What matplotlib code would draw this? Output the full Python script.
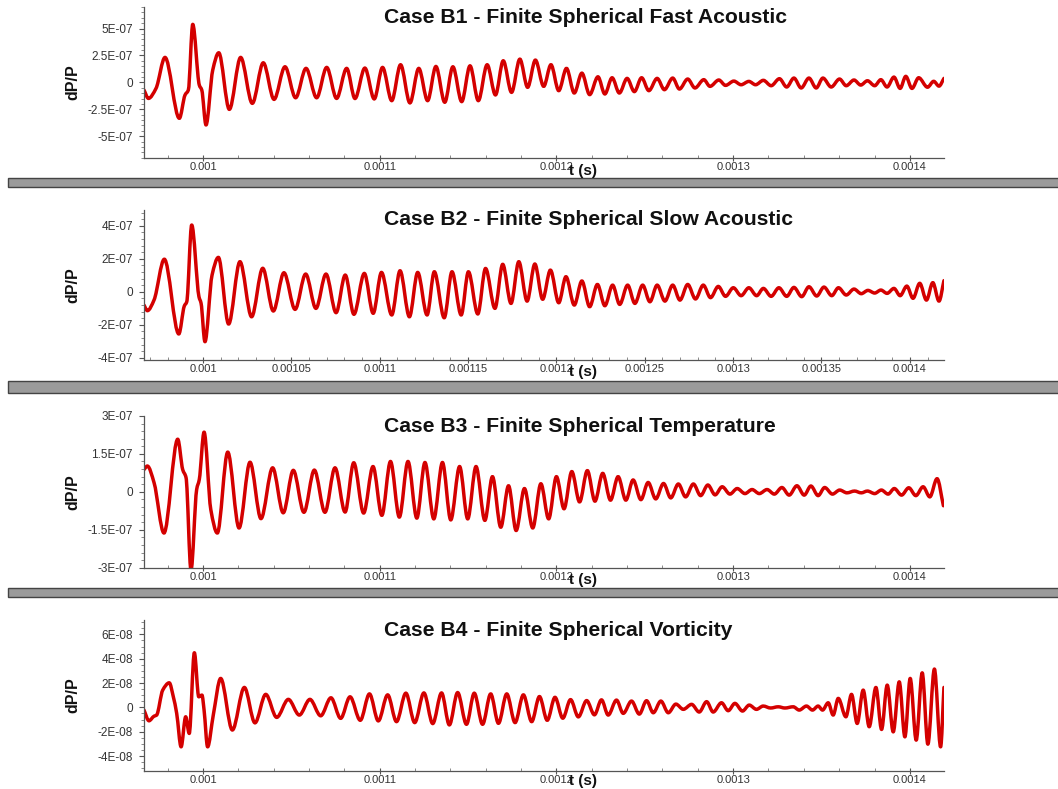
import numpy as np
import matplotlib
matplotlib.use('Agg')
import matplotlib.pyplot as plt
from matplotlib.path import Path
from matplotlib.patches import PathPatch, Rectangle
from matplotlib.ticker import FixedLocator, AutoMinorLocator, FuncFormatter

plt.rcParams['font.family'] = ['Liberation Sans', 'DejaVu Sans']

# peaks / troughs; time in microseconds
b1_t_us = [966.6, 969.1, 973.4, 978.5, 986.6, 989.8, 991.7, 994.2, 997.9, 999.3,
           1001.7, 1005.5, 1008.9, 1014.9, 1021.3, 1027.9, 1034.1, 1040.2, 1046.4, 1052.4,
           1058.3, 1064.3, 1070.0, 1075.6, 1081.3, 1086.0, 1091.6, 1096.9, 1101.6, 1106.8,
           1111.8, 1117.1, 1122.1, 1127.1, 1131.8, 1136.8, 1141.4, 1146.4, 1151.1, 1155.8,
           1160.8, 1165.5, 1169.9, 1174.6, 1179.3, 1183.7, 1188.1, 1192.8, 1196.9, 1201.3,
           1205.7, 1210.1, 1214.4, 1218.8, 1223.5, 1227.4, 1231.5, 1235.6, 1240.0, 1244.1,
           1248.2, 1252.3, 1257.0, 1261.1, 1265.8, 1269.6, 1274.3, 1278.4, 1283.4, 1286.9,
           1291.9, 1295.7, 1300.4, 1304.5, 1308.9, 1312.7, 1317.1, 1321.5, 1326.2, 1330.3,
           1334.4, 1338.5, 1342.9, 1347.0, 1350.8, 1355.5, 1360.2, 1364.0, 1368.4, 1372.2,
           1376.0, 1380.1, 1383.6, 1387.1, 1391.0, 1394.5, 1397.7, 1401.2, 1405.0, 1410.0,
           1413.5, 1416.5, 1419.3]
# dP/P in units of 1e-7
b1_dpp = [-0.71, -1.49, -0.56, 2.32, -3.34, -1.18, -0.71, 5.39, -0.25, -0.71,
          -3.96, 1.14, 2.75, -2.51, 2.32, -1.95, 1.82, -1.58, 1.45, -1.43,
          1.30, -1.43, 1.39, -1.49, 1.30, -1.50, 1.33, -1.54, 1.39, -1.70,
          1.64, -1.91, 1.30, -1.70, 1.48, -1.85, 1.45, -1.79, 1.54, -1.70,
          1.64, -1.17, 2.01, -0.93, 2.16, -0.46, 2.07, -0.37, 1.64, -0.77,
          1.30, -0.99, 0.86, -1.14, 0.52, -1.08, 0.43, -0.99, 0.37, -0.86,
          0.43, -0.77, 0.37, -0.68, 0.40, -0.62, 0.31, -0.52, 0.25, -0.37,
          0.22, -0.28, 0.12, -0.22, 0.09, -0.22, 0.19, -0.31, 0.34, -0.43,
          0.40, -0.52, 0.40, -0.52, 0.40, -0.43, 0.31, -0.31, 0.22, -0.25,
          0.15, -0.31, 0.25, -0.43, 0.49, -0.56, 0.56, -0.56, 0.43, -0.45,
          0.10, -0.35, 0.37]

b2_t_us = [966.6, 968.5, 972.3, 978.1, 986.3, 989.4, 990.8, 993.6, 997.7, 998.9,
           1001.1, 1005.1, 1008.7, 1014.5, 1020.9, 1027.5, 1033.8, 1039.8, 1045.8, 1052.1,
           1058.1, 1063.9, 1069.6, 1075.3, 1080.5, 1085.4, 1091.3, 1096.3, 1101.0, 1106.8,
           1111.5, 1116.8, 1121.5, 1126.8, 1130.9, 1136.5, 1140.9, 1146.1, 1150.2, 1155.5,
           1159.9, 1165.2, 1169.6, 1174.3, 1178.7, 1183.4, 1187.8, 1192.2, 1196.6, 1201.3,
           1205.4, 1210.1, 1214.4, 1218.8, 1223.2, 1227.4, 1231.8, 1235.8, 1240.3, 1244.4,
           1248.8, 1252.9, 1257.0, 1261.4, 1265.8, 1269.9, 1274.3, 1278.7, 1283.1, 1287.2,
           1291.6, 1295.7, 1300.1, 1304.5, 1308.9, 1313.3, 1317.1, 1321.5, 1325.9, 1330.3,
           1334.4, 1338.8, 1342.9, 1347.3, 1351.4, 1355.8, 1359.6, 1364.0, 1368.4, 1372.5,
           1376.3, 1380.1, 1383.6, 1387.1, 1391.0, 1394.5, 1398.3, 1401.8, 1405.6, 1409.4,
           1413.0, 1416.5, 1419.3]
b2_dpp = [-0.81, -1.15, -0.50, 1.97, -2.56, -0.87, -0.61, 4.04, -0.30, -0.70,
          -3.03, 1.00, 2.08, -1.96, 1.82, -1.52, 1.42, -1.17, 1.15, -1.07,
          1.07, -1.01, 1.07, -1.27, 1.01, -1.37, 1.11, -1.31, 1.17, -1.41,
          1.27, -1.52, 1.17, -1.41, 1.21, -1.58, 1.21, -1.41, 1.21, -1.35,
          1.41, -1.01, 1.66, -0.71, 1.82, -0.57, 1.68, -0.46, 1.31, -0.67,
          0.91, -0.81, 0.65, -0.91, 0.44, -0.85, 0.40, -0.77, 0.40, -0.71,
          0.40, -0.61, 0.40, -0.57, 0.40, -0.51, 0.44, -0.44, 0.40, -0.36,
          0.32, -0.28, 0.24, -0.24, 0.24, -0.24, 0.20, -0.28, 0.24, -0.28,
          0.26, -0.30, 0.30, -0.26, 0.28, -0.24, 0.24, -0.20, 0.16, -0.12,
          0.08, -0.08, 0.10, -0.10, 0.20, -0.24, 0.34, -0.40, 0.51, -0.51,
          0.55, -0.57, 0.67]

b3_t_us = [966.6, 968.5, 972.3, 977.9, 985.7, 988.5, 990.4, 993.2, 996.4, 997.9,
           1000.6, 1004.4, 1008.1, 1014.0, 1020.4, 1026.6, 1032.8, 1039.4, 1045.4, 1051.1,
           1057.1, 1063.0, 1069.0, 1074.7, 1080.4, 1085.3, 1090.9, 1096.2, 1101.2, 1106.1,
           1111.1, 1116.0, 1121.0, 1125.6, 1130.6, 1135.5, 1140.2, 1145.2, 1149.8, 1154.5,
           1159.5, 1163.8, 1168.5, 1172.9, 1177.2, 1181.9, 1186.6, 1191.2, 1195.6, 1200.0,
           1204.3, 1208.7, 1213.1, 1217.5, 1221.8, 1226.2, 1230.6, 1234.9, 1239.3, 1243.4,
           1247.8, 1251.9, 1256.2, 1260.6, 1264.7, 1269.0, 1273.1, 1277.5, 1281.6, 1285.7,
           1289.8, 1293.8, 1298.2, 1302.3, 1306.7, 1310.7, 1314.8, 1319.2, 1323.3, 1327.6,
           1331.7, 1336.1, 1340.2, 1344.0, 1348.1, 1351.8, 1356.2, 1360.3, 1364.4, 1368.7,
           1372.5, 1376.0, 1380.1, 1383.9, 1387.7, 1391.2, 1395.3, 1399.4, 1403.4, 1407.5,
           1411.3, 1415.4, 1419.0]
b3_dpp = [0.88, 1.02, 0.36, -1.63, 2.08, 0.88, 0.56, -3.10, 0.09, 0.49,
          2.36, -0.70, -1.63, 1.57, -1.43, 1.17, -1.06, 0.95, -0.83, 0.85,
          -0.81, 0.86, -0.81, 0.95, -0.80, 1.15, -0.84, 1.00, -0.93, 1.20,
          -1.00, 1.20, -1.04, 1.16, -1.07, 1.16, -1.11, 1.00, -1.07, 1.00,
          -1.13, 0.60, -1.40, 0.24, -1.53, 0.13, -1.43, 0.32, -1.07, 0.60,
          -0.67, 0.80, -0.40, 0.84, -0.37, 0.73, -0.33, 0.60, -0.33, 0.47,
          -0.31, 0.37, -0.28, 0.33, -0.24, 0.31, -0.20, 0.31, -0.15, 0.27,
          -0.12, 0.20, -0.09, 0.13, -0.07, 0.09, -0.07, 0.09, -0.09, 0.17,
          -0.13, 0.24, -0.13, 0.23, -0.15, 0.17, -0.09, 0.07, -0.04, 0.03,
          -0.04, 0.03, -0.07, 0.07, -0.09, 0.13, -0.13, 0.16, -0.15, 0.20,
          -0.20, 0.52, -0.55]

b4_t_us = [966.6, 969.4, 972.3, 973.7, 977.2, 980.9, 983.2, 985.1, 987.6, 990.2,
           992.2, 995.1, 997.6, 999.4, 1000.6, 1002.6, 1005.8, 1010.0, 1016.6, 1023.4,
           1029.4, 1035.5, 1041.7, 1048.3, 1054.5, 1060.5, 1066.6, 1072.4, 1077.9, 1083.2,
           1089.0, 1094.2, 1099.2, 1104.5, 1109.5, 1114.8, 1119.8, 1125.0, 1130.0, 1135.0,
           1139.4, 1144.1, 1149.1, 1153.5, 1158.2, 1162.8, 1167.2, 1171.9, 1176.6, 1181.3,
           1186.0, 1190.4, 1194.8, 1199.2, 1203.6, 1208.0, 1212.4, 1217.1, 1221.5, 1225.5,
           1229.3, 1234.0, 1237.8, 1242.5, 1246.9, 1251.0, 1254.8, 1259.1, 1263.3, 1267.6,
           1271.8, 1276.5, 1280.8, 1285.0, 1288.7, 1293.4, 1297.2, 1301.0, 1305.3, 1309.1,
           1313.2, 1317.0, 1321.2, 1325.5, 1329.3, 1334.0, 1337.4, 1341.5, 1344.9, 1348.1,
           1350.6, 1353.8, 1356.6, 1359.5, 1363.8, 1367.0, 1370.2, 1373.6, 1377.0, 1380.8,
           1384.0, 1387.2, 1390.6, 1394.0, 1397.2, 1400.2, 1403.6, 1407.0, 1410.2, 1413.9,
           1417.4, 1419.3]
# dP/P in units of 1e-8
b4_dpp = [-0.22, -1.10, -0.72, -0.64, 1.42, 2.02, 0.87, -0.49, -3.24, -0.77,
          -2.14, 4.49, 0.87, 1.01, -0.22, -3.24, -0.64, 2.38, -1.86, 1.64,
          -1.27, 1.07, -0.82, 0.66, -0.63, 0.66, -0.69, 0.79, -0.90, 0.87,
          -1.06, 1.11, -1.11, 1.03, -1.17, 1.17, -1.25, 1.19, -1.33, 1.19,
          -1.44, 1.22, -1.39, 1.17, -1.39, 1.11, -1.31, 1.11, -1.25, 1.03,
          -1.17, 0.89, -1.06, 0.83, -0.89, 0.64, -0.78, 0.56, -0.61, 0.62,
          -0.63, 0.60, -0.49, 0.52, -0.55, 0.55, -0.44, 0.52, -0.44, 0.27,
          -0.16, 0.25, -0.38, 0.47, -0.38, 0.38, -0.27, 0.33, -0.30, 0.19,
          -0.16, 0.11, -0.05, 0.05, -0.05, 0.05, -0.22, 0.11, -0.22, 0.11,
          -0.22, 0.38, -0.63, 0.74, -0.77, 1.07, -1.32, 1.42, -1.59, 1.64,
          -1.81, 1.83, -2.01, 2.10, -2.42, 2.38, -2.69, 2.84, -3.02, 3.15,
          -3.24, 1.64]

titles = ['Case B1 - Finite Spherical Fast Acoustic',
          'Case B2 - Finite Spherical Slow Acoustic',
          'Case B3 - Finite Spherical Temperature',
          'Case B4 - Finite Spherical Vorticity']
xticks_main = [0.001, 0.0011, 0.0012, 0.0013, 0.0014]
xticks_b2 = [0.001, 0.00105, 0.0011, 0.00115, 0.0012, 0.00125, 0.0013, 0.00135, 0.0014]
yticks = [[-5e-7, -2.5e-7, 0, 2.5e-7, 5e-7],
          [-4e-7, -2e-7, 0, 2e-7, 4e-7],
          [-3e-7, -1.5e-7, 0, 1.5e-7, 3e-7],
          [-4e-8, -2e-8, 0, 2e-8, 4e-8, 6e-8]]
ylims = [(-7e-7, 7e-7), (-4.14e-7, 4.95e-7), (-3e-7, 3e-7), (-5.2e-8, 7.18e-8)]


def smooth_path(x, y):
    # cubic curve through the read extrema (flat at peaks/troughs)
    x = np.asarray(x, float)
    y = np.asarray(y, float)
    h = np.diff(x)
    d = np.diff(y) / h
    m = np.zeros_like(y)
    m[0], m[-1] = d[0], d[-1]
    for i in range(1, len(y) - 1):
        if d[i - 1] * d[i] > 0:
            m[i] = 2.0 / (1.0 / d[i - 1] + 1.0 / d[i])
    verts = [(x[0], y[0])]
    codes = [Path.MOVETO]
    for i in range(len(h)):
        verts.append((x[i] + h[i] / 3, y[i] + m[i] * h[i] / 3))
        verts.append((x[i + 1] - h[i] / 3, y[i + 1] - m[i + 1] * h[i] / 3))
        verts.append((x[i + 1], y[i + 1]))
        codes += [Path.CURVE4] * 3
    return Path(verts, codes)


def yfmt(v, pos):
    if abs(v) < 1e-15:
        return '0'
    return '%G' % v


fig = plt.figure(figsize=(10.58, 7.89), dpi=100)

series = [(b1_t_us, b1_dpp, 1e-7), (b2_t_us, b2_dpp, 1e-7),
          (b3_t_us, b3_dpp, 1e-7), (b4_t_us, b4_dpp, 1e-8)]
ax_rects = [(0.1361, 0.8001, 0.7561, 0.1910),
            (0.1361, 0.5437, 0.7561, 0.1901),
            (0.1361, 0.2805, 0.7561, 0.1923),
            (0.1361, 0.0232, 0.7561, 0.1910)]
title_y = [0.9709, 0.7148, 0.4525, 0.1939]
tlabel_y = [0.7833, 0.5285, 0.2655, 0.0101]
minors_y = [5, 5, 5, 4]

for k in range(4):
    ax = fig.add_axes(ax_rects[k])
    t_us, vals, scale = series[k]
    t = np.array(t_us) * 1e-6
    v = np.array(vals) * scale
    ax.add_patch(PathPatch(smooth_path(t, v), facecolor='none', edgecolor='#d40000',
                           lw=2.5, joinstyle='round', capstyle='round'))
    ax.set_xlim(966.6e-6, 1419.3e-6)
    ax.set_ylim(*ylims[k])

    for s in ['top', 'right']:
        ax.spines[s].set_visible(False)
    for s in ['left', 'bottom']:
        ax.spines[s].set_color('#555555')
        ax.spines[s].set_linewidth(0.9)

    ax.xaxis.set_major_locator(FixedLocator(xticks_b2 if k == 1 else xticks_main))
    ax.xaxis.set_minor_locator(AutoMinorLocator(5))
    ax.xaxis.set_major_formatter(FuncFormatter(lambda v, p: '%g' % v))
    ax.yaxis.set_major_locator(FixedLocator(yticks[k]))
    ax.yaxis.set_minor_locator(AutoMinorLocator(minors_y[k]))
    ax.yaxis.set_major_formatter(FuncFormatter(yfmt))

    ax.tick_params(axis='x', which='major', direction='inout', length=5, width=0.8,
                   pad=0.5, labelsize=8, colors='#555555', labelcolor='#333333')
    ax.tick_params(axis='x', which='minor', direction='in', length=2.5, width=0.6,
                   colors='#777777')
    ax.tick_params(axis='y', which='major', direction='out', length=3.5, width=0.8,
                   pad=4.5, labelsize=8.5, colors='#555555', labelcolor='#333333')
    ax.tick_params(axis='y', which='minor', direction='out', length=2, width=0.6,
                   colors='#777777')

    ax.text(-0.0884, 0.5, 'dP/P', rotation=90, ha='center', va='center',
            transform=ax.transAxes, fontsize=11.5, fontweight='bold', color='#111111')
    fig.text(0.3629, title_y[k], titles[k], ha='left', va='baseline',
             fontsize=15.2, fontweight='bold', color='#111111')
    fig.text(0.5510, tlabel_y[k], 't (s)', ha='center', va='center',
             fontsize=11, fontweight='bold', color='#111111')

# grey separator bars between the panels
for top, bot in [(178.3, 186.7), (381.5, 393.5), (588.3, 596.7)]:
    fig.patches.append(Rectangle((8 / 1058, 1 - bot / 789), 1.0, (bot - top) / 789,
                                 transform=fig.transFigure, facecolor='#9b9b9b',
                                 edgecolor='#444444', lw=1.0))

fig.savefig('out.png', dpi=100)
